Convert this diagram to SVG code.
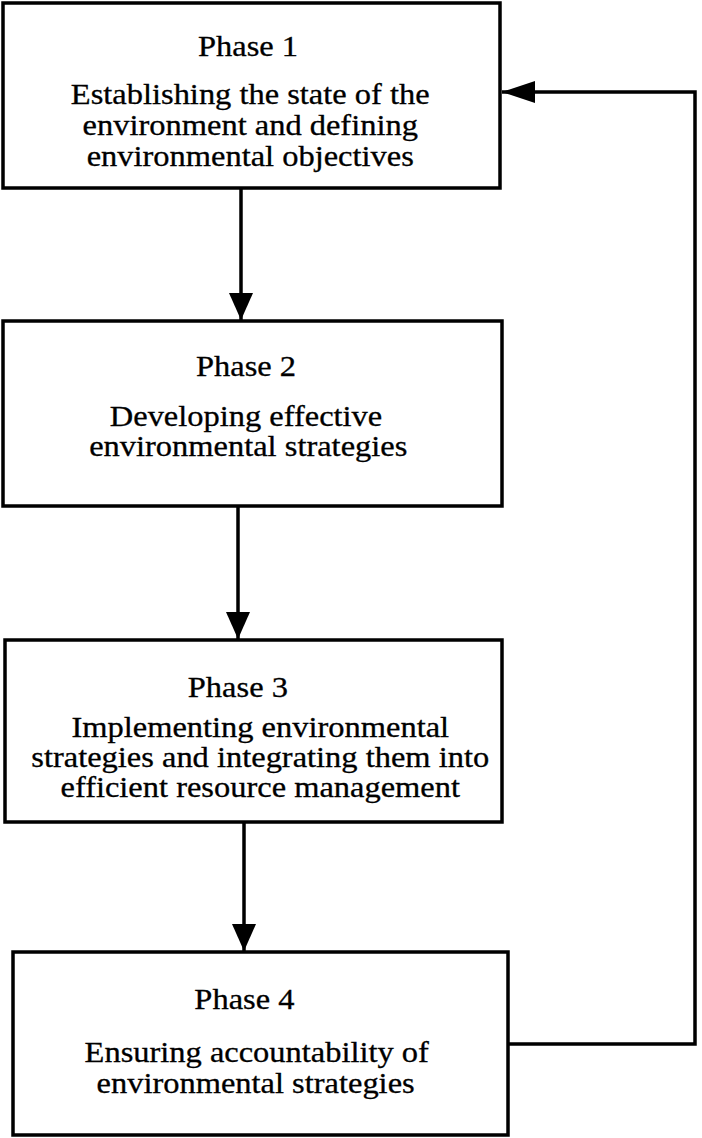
<svg xmlns="http://www.w3.org/2000/svg" width="702" height="1138" viewBox="0 0 702 1138">
<defs>
<style>
.box{fill:#fff;stroke:#000;stroke-width:3.5}
.ln{fill:none;stroke:#000;stroke-width:3.5}
.t{font-family:"Liberation Serif","Times New Roman",serif;font-size:29px;fill:#000;stroke:#000;stroke-width:0.3;text-anchor:middle}
</style>
<marker id="ah" markerUnits="userSpaceOnUse" markerWidth="30" markerHeight="26" refX="27" refY="12" orient="auto">
<path d="M0,0 L27,12 L0,24 z" fill="#000"/>
</marker>
<marker id="ah2" markerUnits="userSpaceOnUse" markerWidth="36" markerHeight="26" refX="33" refY="11" orient="auto">
<path d="M0,0 L33,11 L0,22 z" fill="#000"/>
</marker>
</defs>
<rect width="702" height="1138" fill="#fff"/>
<g id="connectors">
<line class="ln" x1="241" y1="188" x2="241" y2="320" marker-end="url(#ah)"/>
<line class="ln" x1="238" y1="506" x2="238" y2="639" marker-end="url(#ah)"/>
<line class="ln" x1="244" y1="822" x2="244" y2="951" marker-end="url(#ah)"/>
<polyline class="ln" points="508,1044 695,1044 695,92 502,92" marker-end="url(#ah2)"/>
</g>
<g id="phase1">
<rect class="box" x="3" y="3" width="497" height="185"/>
<g transform="translate(248,0) scale(1.12,1)">
<text class="t" x="0" y="56">Phase 1</text>
<text class="t" x="2" y="104">Establishing the state of the</text>
<text class="t" x="2" y="135">environment and defining</text>
<text class="t" x="2" y="166">environmental objectives</text>
</g>
</g>
<g id="phase2">
<rect class="box" x="3" y="321" width="499" height="185"/>
<g transform="translate(246,0) scale(1.12,1)">
<text class="t" x="0" y="376">Phase 2</text>
<text class="t" x="0" y="426">Developing effective</text>
<text class="t" x="2" y="456">environmental strategies</text>
</g>
</g>
<g id="phase3">
<rect class="box" x="5" y="640" width="497" height="182"/>
<g transform="translate(258,0) scale(1.12,1)">
<text class="t" x="-18" y="697">Phase 3</text>
<text class="t" x="2" y="737">Implementing environmental</text>
<text class="t" x="2" y="767">strategies and integrating them into</text>
<text class="t" x="2" y="797">efficient resource management</text>
</g>
</g>
<g id="phase4">
<rect class="box" x="13" y="952" width="495" height="183"/>
<g transform="translate(250,0) scale(1.12,1)">
<text class="t" x="-5" y="1009">Phase 4</text>
<text class="t" x="6" y="1062">Ensuring accountability of</text>
<text class="t" x="5" y="1093">environmental strategies</text>
</g>
</g>
</svg>
